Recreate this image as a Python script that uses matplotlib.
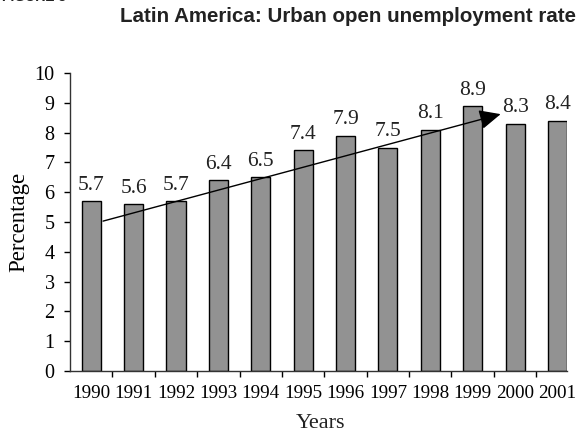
import matplotlib
matplotlib.use("Agg")
import matplotlib.pyplot as plt

years = ["1990", "1991", "1992", "1993", "1994", "1995", "1996", "1997", "1998", "1999", "2000", "2001"]
rates = [5.7, 5.6, 5.7, 6.4, 6.5, 7.4, 7.9, 7.5, 8.1, 8.9, 8.3, 8.4]
trend_start = (0.28, 5.03)
trend_end = (9.66, 8.62)

serif = "Liberation Serif"
sans = "Liberation Sans"

fig = plt.figure(figsize=(5.8, 4.33), dpi=100)
ax = fig.add_axes([70/580, 1-371/433, (567-70)/580, (371-73)/433])

x = list(range(len(years)))
ax.bar(x, rates, width=0.45, color="#929292", edgecolor="black", linewidth=1.0, zorder=2)

for xi, v in zip(x, rates):
    ax.annotate(f"{v:.1f}", (xi, v), xytext=(0, 4.5), textcoords="offset points",
                ha="center", va="bottom", fontsize=15.5, family=serif, color="#222222")

ax.annotate("", xy=trend_end, xytext=trend_start,
            arrowprops=dict(arrowstyle="-|>,head_length=1.3,head_width=0.6",
                            color="black", lw=1.0, shrinkA=0, shrinkB=0), zorder=3)

ax.set_xlim(-0.5, 11.225)
ax.set_ylim(0, 10)
ax.set_yticks(range(0, 11))
ax.set_yticklabels([str(i) for i in range(0, 11)], family=serif, fontsize=14.5)
ax.set_xticks([i + 0.5 for i in range(11)], minor=False)
ax.set_xticklabels([])
ax.tick_params(axis="x", which="major", length=4, direction="out", width=1)
ax.set_xticks(x, minor=True)
ax.set_xticklabels(years, minor=True, family=serif, fontsize=13.8)
ax.tick_params(axis="x", which="minor", length=0, pad=10)
ax.tick_params(axis="y", length=4, direction="out", width=1, pad=7)

for s in ["top", "right"]:
    ax.spines[s].set_visible(False)
for s in ["left", "bottom"]:
    ax.spines[s].set_linewidth(1.0)
    ax.spines[s].set_color("#333333")

ax.set_ylabel("Percentage", family=serif, fontsize=16.5, labelpad=4)
fig.text(320/580, 1-423/433, "Years", ha="center", va="center",
         family=serif, fontsize=16, color="#222222")

fig.text(348/580, 1-17/433, "Latin America: Urban open unemployment rate",
         ha="center", va="center", fontsize=14.8, fontweight="bold", family=sans, color="#222222")
fig.text(2/580, 1-1/433, "FIGURE 3", ha="left", va="baseline", fontsize=10,
         fontweight="bold", family=sans, color="#222222")

fig.savefig("out.png", dpi=100)
